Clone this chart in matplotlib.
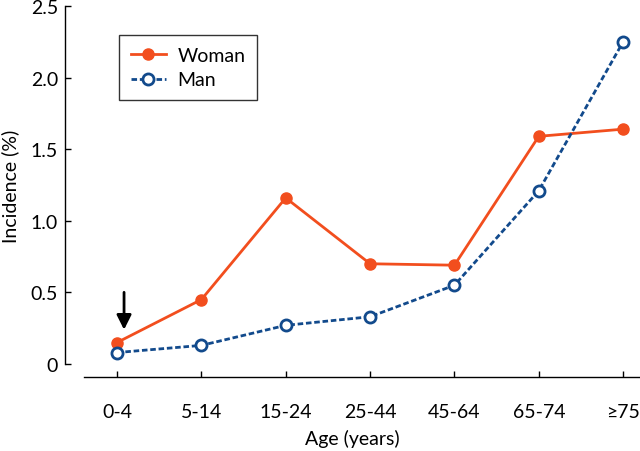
import matplotlib
matplotlib.use("Agg")
import matplotlib.pyplot as plt

categories = ["0-4", "5-14", "15-24", "25-44", "45-64", "65-74", "≥75"]
woman = [0.15, 0.45, 1.16, 0.70, 0.69, 1.59, 1.64]
man = [0.08, 0.13, 0.27, 0.33, 0.55, 1.21, 2.25]
yticks = [0, 0.5, 1.0, 1.5, 2.0, 2.5]
yticklabels = ["0", "0.5", "1.0", "1.5", "2.0", "2.5"]

plt.rcParams['font.family'] = ['Lato', 'DejaVu Sans']

orange = "#F24E1E"
blue = "#124A8C"
fs = 14

fig = plt.figure(figsize=(6.4, 4.52), dpi=100)
ax = fig.add_axes([65/640, (452-365)/452, 575/640, 358/452])

x = list(range(len(categories)))
ax.plot(x, woman, color=orange, lw=2.0, marker='o', ms=8, mfc=orange, mec=orange,
        label="Woman", clip_on=False, zorder=3)
ax.plot(x, man, color=blue, lw=2.0, ls=(0, (2.0, 1.0)), marker='o', ms=8, mfc='white',
        mec=blue, mew=2.0, label="Man", clip_on=False, zorder=3)

ax.set_xlim(-0.617, 6.2)
ax.set_ylim(0, 2.5)
ax.set_xticks(x)
ax.set_xticklabels(categories)
ax.set_yticks(yticks)
ax.set_yticklabels(yticklabels)

for s in ['top', 'right']:
    ax.spines[s].set_visible(False)
ax.spines['left'].set_bounds(0, 2.5)
ax.spines['bottom'].set_position(('outward', 9.4))
ax.spines['bottom'].set_bounds(-0.39, 6.2)
for s in ['left', 'bottom']:
    ax.spines[s].set_linewidth(1.0)

ax.tick_params(axis='y', direction='in', length=4, width=1, pad=5, labelsize=fs)
ax.tick_params(axis='x', direction='in', length=4, width=1, pad=19, labelsize=fs)

ax.set_xlabel("Age (years)", fontsize=fs, labelpad=6)
ax.set_ylabel("Incidence (%)", fontsize=fs, labelpad=8)

ax.annotate("", xy=(0.083, 0.22), xytext=(0.083, 0.52),
            arrowprops=dict(arrowstyle='-|>', color='black', lw=2.0,
                            mutation_scale=22))

leg = ax.legend(loc='upper left', bbox_to_anchor=(0.094, 0.919), borderaxespad=0,
                fontsize=fs, frameon=True, fancybox=False, handlelength=1.8,
                handletextpad=0.6, borderpad=0.6, labelspacing=0.4)
leg.get_frame().set_edgecolor('black')
leg.get_frame().set_linewidth(1.0)

fig.savefig("out.png", dpi=100)
